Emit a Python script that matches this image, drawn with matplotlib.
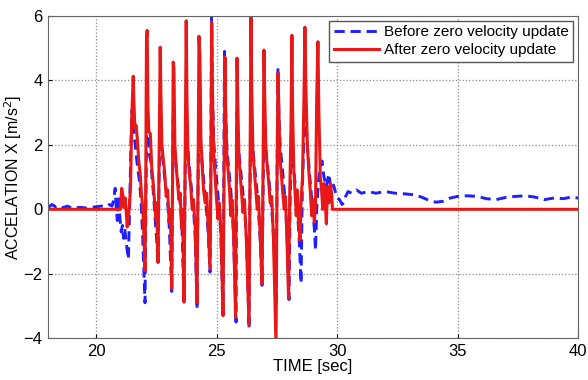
import numpy as np
import matplotlib.pyplot as plt

plt.rcParams['font.family'] = ['Liberation Sans', 'DejaVu Sans']

# After zero velocity update (red)
t_after = [18.0, 21.0, 21.05, 21.1, 21.15, 21.2, 21.28, 21.35, 21.42, 21.47,
           21.53, 21.56, 21.6, 21.65, 21.7, 21.76, 21.82, 21.87, 21.92, 21.96,
           22.02, 22.05, 22.08, 22.11, 22.14, 22.18, 22.24, 22.3, 22.36, 22.42,
           22.47, 22.5, 22.56, 22.6, 22.65, 22.68, 22.72, 22.77, 22.83, 22.9,
           22.96, 23.02, 23.07, 23.13, 23.16, 23.19, 23.22, 23.26, 23.3, 23.37,
           23.43, 23.48, 23.54, 23.58, 23.64, 23.68, 23.73, 23.76, 23.8, 23.85,
           23.92, 23.98, 24.03, 24.1, 24.18, 24.22, 24.26, 24.3, 24.34, 24.39,
           24.45, 24.52, 24.58, 24.64, 24.72, 24.75, 24.79, 24.83, 24.88, 24.93,
           24.99, 25.05, 25.1, 25.17, 25.26, 25.3, 25.34, 25.37, 25.42, 25.47,
           25.53, 25.58, 25.63, 25.7, 25.78, 25.81, 25.84, 25.87, 25.92, 25.97,
           26.03, 26.09, 26.15, 26.22, 26.34, 26.38, 26.42, 26.45, 26.5, 26.56,
           26.62, 26.68, 26.73, 26.79, 26.88, 26.92, 26.96, 26.99, 27.04, 27.1,
           27.16, 27.22, 27.28, 27.35, 27.46, 27.5, 27.54, 27.57, 27.62, 27.68,
           27.74, 27.8, 27.85, 27.9, 27.98, 28.03, 28.08, 28.12, 28.15, 28.2,
           28.26, 28.3, 28.34, 28.4, 28.46, 28.5, 28.56, 28.62, 28.66, 28.7,
           28.76, 28.82, 28.88, 28.94, 29.0, 29.05, 29.1, 29.15, 29.2, 29.24,
           29.3, 29.35, 29.4, 29.45, 29.5, 29.55, 29.6, 29.66, 29.72, 29.78,
           29.8, 40.0]
a_after = [0.0, 0.0, 0.65, 0.45, 0.05, 0.35, -0.55, -0.1, 0.7, 2.9,
           4.13, 3.3, 2.5, 2.6, 2.2, 1.5, 1.1, 0.5, 0.1, -0.5,
           -1.9, 0.8, 5.3, 5.55, 3.2, 2.4, 2.35, 1.3, 0.8, 0.2,
           -0.3, 0.2, -1.65, 1.2, 5.03, 3.6, 2.0, 1.6, 1.2, 0.4,
           0.6, -0.4, 0.0, -2.46, 0.6, 4.57, 4.4, 2.0, 1.5, 0.8,
           0.3, 0.5, -0.6, 0.0, -2.88, 0.9, 5.85, 3.5, 1.8, 1.2,
           0.7, 0.0, 0.3, -0.5, -2.9, 0.9, 5.37, 4.8, 2.2, 1.4,
           0.6, 0.2, 0.5, -0.5, -1.85, 0.5, 5.8, 3.2, 1.6, 1.0,
           0.3, -0.3, 0.2, -0.6, -3.3, 0.8, 4.72, 3.0, 1.6, 1.2,
           0.6, -0.2, 0.3, -0.8, -3.35, 0.6, 4.69, 3.4, 1.6, 1.1,
           0.5, -0.1, 0.3, -0.8, -3.6, 1.2, 5.96, 3.8, 1.8, 1.2,
           0.6, 0.0, 0.4, -0.6, -2.3, 1.0, 4.94, 3.6, 1.8, 1.3,
           0.8, 0.2, 0.4, -0.8, -4.3, 0.7, 4.22, 3.4, 1.6, 1.1,
           0.5, 0.0, 0.4, -0.6, -2.77, 0.5, 2.5, 5.4, 3.0, 1.2,
           0.4, -0.2, 0.6, -0.5, -0.96, 0.3, 1.0, 3.5, 5.65, 3.8,
           2.0, 1.2, 0.6, -0.2, 0.3, -0.4, 0.2, 3.5, 5.2, 3.0,
           1.0, 0.6, 0.0, 0.8, 0.3, -0.45, 0.7, 0.2, 0.8, 0.4,
           0.0, 0.0]

# Before zero velocity update (blue)
t_before = [18.0, 18.15, 18.3, 18.45, 18.6, 18.8, 19.0, 19.3, 19.6, 19.9,
            20.2, 20.4, 20.55, 20.65, 20.72, 20.78, 20.82, 20.87, 20.92, 20.97,
            21.03, 21.08, 21.13, 21.18, 21.25, 21.33, 21.38, 21.44, 21.48, 21.53,
            21.58, 21.63, 21.68, 21.73, 21.8, 21.86, 21.92, 22.02, 22.06, 22.1,
            22.14, 22.2, 22.26, 22.32, 22.38, 22.44, 22.5, 22.56, 22.6, 22.65,
            22.69, 22.75, 22.82, 22.9, 22.97, 23.03, 23.13, 23.16, 23.19, 23.23,
            23.29, 23.36, 23.44, 23.51, 23.56, 23.64, 23.68, 23.73, 23.77, 23.83,
            23.9, 23.98, 24.05, 24.1, 24.18, 24.22, 24.26, 24.3, 24.36, 24.43,
            24.51, 24.58, 24.64, 24.72, 24.75, 24.78, 24.82, 24.88, 24.95, 25.03,
            25.1, 25.17, 25.26, 25.29, 25.32, 25.36, 25.42, 25.49, 25.57, 25.64,
            25.7, 25.8, 25.82, 25.84, 25.88, 25.94, 26.02, 26.1, 26.18, 26.24,
            26.34, 26.38, 26.42, 26.46, 26.52, 26.6, 26.68, 26.74, 26.8, 26.88,
            26.92, 26.96, 27.0, 27.06, 27.14, 27.22, 27.3, 27.37, 27.46, 27.5,
            27.54, 27.58, 27.64, 27.72, 27.8, 27.87, 27.92, 28.0, 28.05, 28.1,
            28.14, 28.2, 28.28, 28.36, 28.42, 28.5, 28.55, 28.6, 28.66, 28.7,
            28.76, 28.84, 28.92, 29.0, 29.05, 29.1, 29.16, 29.24, 29.3, 29.37,
            29.45, 29.55, 29.65, 29.75, 29.85, 29.92, 30.0, 30.1, 30.2, 30.28,
            30.35, 30.45, 30.6, 30.8, 31.0, 31.3, 31.6, 32.0, 32.4, 32.8,
            33.2, 33.5, 33.8, 34.1, 34.4, 34.7, 35.0, 35.4, 35.8, 36.2,
            36.6, 37.0, 37.4, 37.8, 38.2, 38.6, 39.0, 39.4, 39.7, 40.0]
a_before = [0.05, 0.15, 0.08, 0.12, 0.05, 0.1, 0.03, 0.06, 0.04, 0.07,
            0.1, 0.08, 0.15, 0.1, 0.3, 0.65, 0.1, -0.35, 0.4, -0.2,
            -0.7, -0.5, -0.9, -0.6, -1.1, -1.55, 0.0, 2.2, 3.07, 2.6,
            2.2, 1.9, 1.5, 1.2, 0.8, 0.2, -0.8, -2.9, 0.5, 3.6,
            2.6, 1.7, 1.5, 0.9, 0.4, -0.3, -0.9, -1.7, 0.8, 3.0,
            2.1, 1.6, 1.1, 0.6, 0.1, -0.6, -2.55, 0.4, 2.8, 2.0,
            1.5, 1.0, 0.5, -0.1, -0.7, -2.95, 0.6, 3.2, 2.2, 1.6,
            1.0, 0.4, -0.2, -0.8, -3.1, 0.5, 3.5, 2.4, 1.7, 1.1,
            0.5, -0.1, -0.7, -1.95, 0.8, 6.0, 3.6, 2.0, 1.3, 0.6,
            0.0, -0.8, -3.35, 0.9, 4.9, 3.2, 1.9, 1.3, 0.7, 0.0,
            -0.9, -3.5, 0.5, 3.0, 2.1, 1.6, 1.0, 0.4, -0.3, -1.0,
            -3.7, 0.6, 3.3, 2.3, 1.7, 1.1, 0.5, -0.2, -0.9, -2.36,
            0.5, 2.9, 2.2, 1.7, 1.1, 0.5, -0.2, -1.0, -3.0, 0.9,
            4.4, 2.9, 1.9, 1.3, 0.6, -0.1, -0.9, -2.8, 0.4, 2.6,
            1.8, 1.2, 0.6, -0.2, -0.9, -2.3, 0.5, 1.8, 3.4, 2.8,
            2.0, 1.2, 0.5, -0.2, -0.6, -1.27, 0.2, 1.0, 1.3, 1.5,
            1.0, 0.7, 1.1, 0.6, 0.75, 0.55, 0.35, 0.3, 0.15, 0.2,
            0.4, 0.55, 0.5, 0.6, 0.5, 0.55, 0.5, 0.55, 0.5, 0.48,
            0.45, 0.38, 0.28, 0.22, 0.25, 0.35, 0.4, 0.42, 0.4, 0.33,
            0.3, 0.37, 0.4, 0.42, 0.38, 0.3, 0.35, 0.33, 0.38, 0.35]

fig = plt.figure(figsize=(5.88, 3.8), dpi=100)
ax = fig.add_axes([0.082, 0.11, 0.901, 0.848])

ax.plot(t_before, a_before, '--', color='#1f1fff', linewidth=2.1, dashes=(3.5, 2),
        label='Before zero velocity update')
ax.plot(t_after, a_after, '-', color='#e81818', linewidth=2.2,
        label='After zero velocity update')

ax.set_xlim(18, 40)
ax.set_ylim(-4, 6)
ax.set_xticks([20, 25, 30, 35, 40])
ax.set_yticks([-4, -2, 0, 2, 4, 6])
ax.grid(True, linestyle=':', color='#8a8a8a', linewidth=0.9)
ax.tick_params(direction='in', length=3, labelsize=12, pad=4)
for s in ax.spines.values():
    s.set_color('#666666')

ax.set_xlabel('TIME [sec]', fontsize=12, labelpad=0)
ax.set_ylabel('ACCELATION X [m/s$^2$]', fontsize=11.5)
ax.yaxis.set_label_coords(-0.045, 0.5)

leg = ax.legend(loc='upper right', fontsize=11, fancybox=False, framealpha=1,
                edgecolor='#555555', borderaxespad=0.3, handlelength=3.0,
                handletextpad=0.3, borderpad=0.3, labelspacing=0.25)
leg.get_frame().set_linewidth(1.0)

plt.savefig('out.png', dpi=100)
